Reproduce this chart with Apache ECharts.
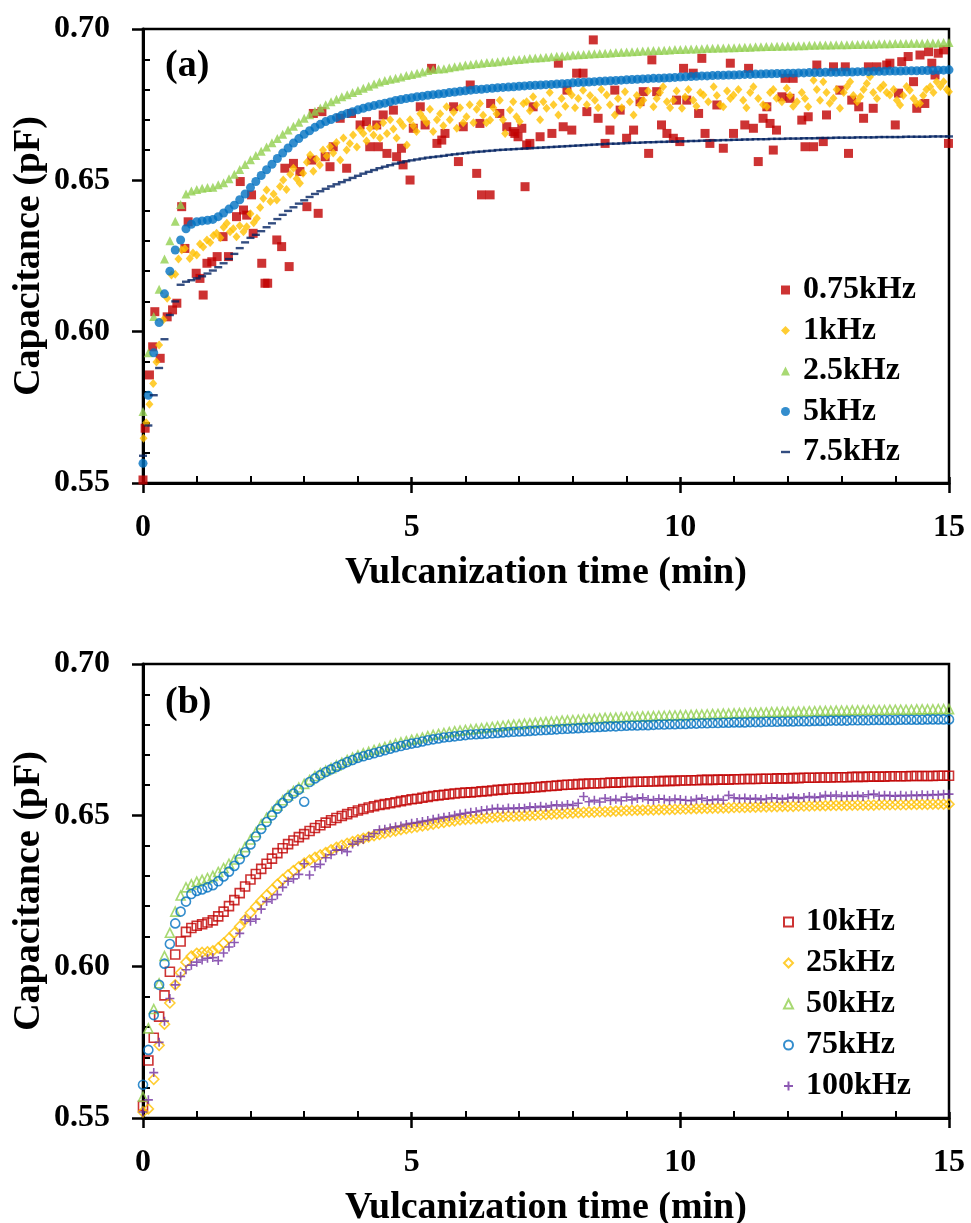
<!DOCTYPE html>
<html>
<head>
<meta charset="utf-8">
<script src="https://cdn.jsdelivr.net/npm/echarts@6/dist/echarts.min.js"></script>
<style>
html,body{margin:0;padding:0;background:#fff;}
#chart{width:971px;height:1223px;}
</style>
</head>
<body>
<div id="chart"></div>
<script>
// ---------- shared time grid (min) ----------
const timeGrid = [
0,0.1,0.2,0.3,0.4,0.5,0.6,0.7,0.8,0.9,
1,1.1,1.2,1.3,1.4,1.5,1.6,1.7,1.8,1.9,
2,2.1,2.2,2.3,2.4,2.5,2.6,2.7,2.8,2.9,
3,3.1,3.2,3.3,3.4,3.5,3.6,3.7,3.8,3.9,
4,4.1,4.2,4.3,4.4,4.5,4.6,4.7,4.8,4.9,
5,5.1,5.2,5.3,5.4,5.5,5.6,5.7,5.8,5.9,
6,6.1,6.2,6.3,6.4,6.5,6.6,6.7,6.8,6.9,
7,7.1,7.2,7.3,7.4,7.5,7.6,7.7,7.8,7.9,
8,8.1,8.2,8.3,8.4,8.5,8.6,8.7,8.8,8.9,
9,9.1,9.2,9.3,9.4,9.5,9.6,9.7,9.8,9.9,
10,10.1,10.2,10.3,10.4,10.5,10.6,10.7,10.8,10.9,
11,11.1,11.2,11.3,11.4,11.5,11.6,11.7,11.8,11.9,
12,12.1,12.2,12.3,12.4,12.5,12.6,12.7,12.8,12.9,
13,13.1,13.2,13.3,13.4,13.5,13.6,13.7,13.8,13.9,
14,14.1,14.2,14.3,14.4,14.5,14.6,14.7,14.8,14.9,
15];

// ---------- panel (a) ----------
const a075kHz = [[0,0.5510],[0.04,0.5681],[0.12,0.5857],[0.18,0.5950],[0.22,0.6066],[0.32,0.5912],[0.45,0.6049],[0.55,0.6072],[0.63,0.6094],[0.72,0.6413],[0.78,0.6275],[0.84,0.6363],[0.99,0.6193],[1.06,0.6176],[1.12,0.6121],[1.19,0.6226],[1.28,0.6231],[1.38,0.6248],[1.49,0.6314],[1.59,0.6248],[1.74,0.6380],[1.81,0.6496],[1.87,0.6402],[1.93,0.6385],[2.02,0.6452],[2.05,0.6325],[2.21,0.6226],[2.27,0.6160],[2.32,0.6160],[2.49,0.6303],[2.58,0.6281],[2.64,0.6540],[2.72,0.6215],[2.80,0.6556],[2.92,0.6529],[3.05,0.6413],[3.14,0.6567],[3.17,0.6721],[3.26,0.6391],[3.33,0.6727],[3.39,0.6578],[3.48,0.6545],[3.54,0.6611],[3.67,0.6705],[3.79,0.6540],[3.88,0.6721],[4.04,0.6683],[4.16,0.6694],[4.22,0.6611],[4.35,0.6683],[4.38,0.6611],[4.47,0.6716],[4.54,0.6589],[4.66,0.6732],[4.72,0.6578],[4.81,0.6606],[4.84,0.6551],[4.97,0.6501],[5.03,0.6672],[5.16,0.6743],[5.25,0.6683],[5.37,0.6870],[5.47,0.6622],[5.56,0.6633],[5.62,0.6655],[5.78,0.6743],[5.87,0.6562],[5.96,0.6677],[6.09,0.6815],[6.21,0.6523],[6.27,0.6688],[6.30,0.6452],[6.46,0.6452],[6.47,0.6754],[6.64,0.6721],[6.77,0.6677],[6.89,0.6661],[6.92,0.6655],[6.98,0.6644],[7.05,0.6672],[7.11,0.6479],[7.14,0.6617],[7.20,0.6622],[7.26,0.6743],[7.39,0.6644],[7.61,0.6655],[7.73,0.6887],[7.82,0.6677],[7.89,0.6798],[7.98,0.6666],[8.07,0.6854],[8.19,0.6854],[8.26,0.6727],[8.38,0.6964],[8.47,0.6705],[8.60,0.6622],[8.69,0.6666],[8.78,0.6798],[8.88,0.6732],[9.00,0.6639],[9.13,0.6666],[9.25,0.6760],[9.31,0.6793],[9.41,0.6589],[9.47,0.6898],[9.56,0.6793],[9.65,0.6683],[9.75,0.6655],[9.87,0.6639],[9.93,0.6765],[9.99,0.6628],[10.06,0.6870],[10.12,0.6765],[10.24,0.6854],[10.34,0.6721],[10.40,0.6903],[10.46,0.6655],[10.55,0.6622],[10.68,0.6749],[10.80,0.6606],[10.93,0.6887],[10.99,0.6655],[11.20,0.6683],[11.27,0.6870],[11.36,0.6672],[11.45,0.6562],[11.54,0.6705],[11.61,0.6743],[11.67,0.6688],[11.73,0.6600],[11.79,0.6666],[11.89,0.6776],[11.95,0.6837],[12.04,0.6771],[12.10,0.6837],[12.26,0.6699],[12.32,0.6611],[12.38,0.6710],[12.48,0.6611],[12.54,0.6881],[12.66,0.6628],[12.72,0.6716],[12.85,0.6875],[12.97,0.6798],[13.07,0.6875],[13.13,0.6589],[13.19,0.6765],[13.32,0.6743],[13.41,0.6705],[13.50,0.6875],[13.59,0.6738],[13.66,0.6875],[13.84,0.6881],[13.90,0.6887],[14.00,0.6683],[14.06,0.6788],[14.12,0.6892],[14.24,0.6909],[14.34,0.6826],[14.40,0.6738],[14.46,0.6914],[14.55,0.6754],[14.62,0.6925],[14.68,0.6887],[14.74,0.6848],[14.80,0.6920],[14.90,0.6931],[14.99,0.6622]];

const a1kHz = [[0.01,0.5648],[0.06,0.5699],[0.12,0.5760],[0.19,0.5829],[0.25,0.5900],[0.3,0.5956],[0.38,0.6039],[0.45,0.6110],[0.53,0.6187],[0.6,0.6190],[0.66,0.6240],[0.72,0.6270],[0.78,0.6275],[0.87,0.6242],[0.93,0.6260],[1.0,0.6253],[1.06,0.6290],[1.12,0.6280],[1.19,0.6303],[1.25,0.6295],[1.31,0.6318],[1.37,0.6325],[1.44,0.6310],[1.5,0.6345],[1.56,0.6358],[1.62,0.6330],[1.68,0.6340],[1.74,0.6314],[1.8,0.6350],[1.87,0.6330],[1.93,0.6347],[2.0,0.6390],[2.06,0.6360],[2.12,0.6375],[2.18,0.6410],[2.24,0.6440],[2.30,0.6468],[2.37,0.6430],[2.43,0.6455],[2.49,0.6435],[2.55,0.6480],[2.61,0.6501],[2.67,0.6470],[2.74,0.6520],[2.80,0.6540],[2.86,0.6505],[2.92,0.6490],[2.98,0.6523],[3.05,0.6560],[3.11,0.6584],[3.17,0.6530],[3.23,0.6570],[3.29,0.6551],[3.35,0.6600],[3.42,0.6580],[3.48,0.6611],[3.54,0.6590],[3.60,0.6625],[3.67,0.6567],[3.73,0.6640],[3.79,0.6600],[3.85,0.6622],[3.91,0.6650],[3.98,0.6610],[4.04,0.6668],[4.10,0.6655],[4.16,0.6630],[4.22,0.6672],[4.29,0.6650],[4.35,0.6677],[4.41,0.6640],[4.47,0.6690],[4.54,0.6655],[4.60,0.6700],[4.66,0.6670],[4.72,0.6640],[4.78,0.6694],[4.84,0.6680],[4.91,0.6617],[4.97,0.6700],[5.03,0.6680],[5.09,0.6661],[5.16,0.6720],[5.22,0.6705],[5.28,0.6690],[5.34,0.6735],[5.40,0.6661],[5.47,0.6700],[5.53,0.6720],[5.59,0.6680],[5.65,0.6743],[5.71,0.6700],[5.78,0.6725],[5.84,0.6672],[5.90,0.6740],[5.96,0.6690],[6.02,0.6710],[6.08,0.6750],[6.15,0.6690],[6.21,0.6735],[6.27,0.6754],[6.33,0.6715],[6.39,0.6690],[6.46,0.6699],[6.52,0.6740],[6.58,0.6720],[6.64,0.6765],[6.70,0.6700],[6.74,0.6655],[6.83,0.6732],[6.89,0.6760],[6.95,0.6710],[7.01,0.6694],[7.08,0.6754],[7.14,0.6760],[7.20,0.6730],[7.26,0.6776],[7.32,0.6750],[7.39,0.6700],[7.45,0.6760],[7.51,0.6738],[7.57,0.6790],[7.64,0.6750],[7.73,0.6716],[7.79,0.6770],[7.86,0.6745],[7.92,0.6795],[7.98,0.6782],[8.04,0.6740],[8.10,0.6770],[8.19,0.6798],[8.26,0.6750],[8.32,0.6780],[8.41,0.6765],[8.47,0.6740],[8.53,0.6800],[8.63,0.6782],[8.69,0.6750],[8.78,0.6716],[8.84,0.6770],[8.91,0.6740],[8.97,0.6793],[9.06,0.6760],[9.13,0.6716],[9.19,0.6780],[9.25,0.6750],[9.31,0.6765],[9.40,0.6795],[9.50,0.6743],[9.56,0.6770],[9.62,0.6790],[9.68,0.6809],[9.75,0.6760],[9.81,0.6740],[9.87,0.6765],[9.93,0.6795],[10.03,0.6738],[10.09,0.6775],[10.15,0.6800],[10.24,0.6765],[10.30,0.6745],[10.37,0.6790],[10.43,0.6782],[10.52,0.6760],[10.62,0.6809],[10.68,0.6780],[10.74,0.6750],[10.80,0.6743],[10.87,0.6795],[10.93,0.6770],[10.99,0.6782],[11.08,0.6800],[11.17,0.6765],[11.23,0.6740],[11.30,0.6790],[11.36,0.6809],[11.45,0.6770],[11.54,0.6750],[11.61,0.6743],[11.67,0.6790],[11.73,0.6800],[11.79,0.6771],[11.89,0.6760],[11.98,0.6804],[12.04,0.6780],[12.10,0.6745],[12.17,0.6760],[12.26,0.6790],[12.32,0.6770],[12.38,0.6743],[12.48,0.6831],[12.54,0.6800],[12.60,0.6765],[12.66,0.6826],[12.72,0.6790],[12.78,0.6755],[12.85,0.6771],[12.91,0.6800],[12.97,0.6738],[13.04,0.6790],[13.10,0.6810],[13.16,0.6826],[13.22,0.6780],[13.29,0.6760],[13.35,0.6776],[13.41,0.6800],[13.47,0.6820],[13.53,0.6842],[13.59,0.6790],[13.66,0.6770],[13.72,0.6804],[13.78,0.6815],[13.84,0.6790],[13.90,0.6782],[13.97,0.6800],[14.03,0.6765],[14.09,0.6749],[14.15,0.6780],[14.21,0.6810],[14.27,0.6798],[14.34,0.6770],[14.40,0.6754],[14.46,0.6754],[14.52,0.6780],[14.58,0.6800],[14.65,0.6809],[14.71,0.6790],[14.77,0.6826],[14.84,0.6810],[14.90,0.6826],[14.96,0.6800],[15.0,0.6793]];

const a25kHz = [
0.5736,0.5930,0.6050,0.6140,0.6240,0.6300,0.6365,0.6420,0.6455,0.6465,
0.6470,0.6474,0.6476,0.6477,0.6485,0.6492,0.6505,0.6520,0.6536,0.6552,
0.6568,0.6582,0.6596,0.6610,0.6624,0.6638,0.6652,0.6666,0.6679,0.6692,
0.6705,0.6717,0.6728,0.6739,0.6750,0.6760,0.6768,0.6776,0.6783,0.6790,
0.6797,0.6804,0.6811,0.6818,0.6825,0.6830,0.6834,0.6837,0.6841,0.6846,
0.6850,0.6854,0.6858,0.6863,0.6866,0.6868,0.6869,0.6872,0.6875,0.6878,
0.6881,0.6883,0.6885,0.6887,0.6889,0.6890,0.6892,0.6894,0.6896,0.6898,
0.6899,0.6901,0.6903,0.6904,0.6905,0.6907,0.6908,0.6910,0.6911,0.6912,
0.6914,0.6915,0.6916,0.6917,0.6918,0.6919,0.6920,0.6921,0.6922,0.6923,
0.6924,0.6925,0.6926,0.6927,0.6928,0.6929,0.6929,0.6930,0.6931,0.6932,
0.6932,0.6933,0.6934,0.6934,0.6935,0.6936,0.6936,0.6937,0.6937,0.6938,
0.6938,0.6939,0.6940,0.6940,0.6941,0.6941,0.6942,0.6942,0.6943,0.6943,
0.6944,0.6944,0.6945,0.6945,0.6946,0.6946,0.6947,0.6947,0.6947,0.6948,
0.6948,0.6948,0.6949,0.6949,0.6950,0.6950,0.6950,0.6951,0.6951,0.6951,
0.6952,0.6952,0.6952,0.6953,0.6953,0.6953,0.6954,0.6954,0.6954,0.6955,
0.6955];

const a5kHz = [
0.5565,0.5790,0.5930,0.6030,0.6125,0.6200,0.6270,0.6303,0.6340,0.6355,
0.6363,0.6366,0.6368,0.6371,0.6380,0.6392,0.6405,0.6418,0.6436,0.6455,
0.6476,0.6496,0.6516,0.6535,0.6553,0.6572,0.6590,0.6607,0.6623,0.6638,
0.6652,0.6664,0.6675,0.6685,0.6694,0.6701,0.6708,0.6715,0.6721,0.6727,
0.6733,0.6738,0.6743,0.6747,0.6751,0.6755,0.6759,0.6764,0.6767,0.6770,
0.6773,0.6776,0.6778,0.6781,0.6783,0.6785,0.6787,0.6790,0.6792,0.6794,
0.6796,0.6798,0.6800,0.6801,0.6803,0.6804,0.6806,0.6807,0.6808,0.6809,
0.6811,0.6812,0.6813,0.6814,0.6815,0.6816,0.6817,0.6818,0.6819,0.6820,
0.6822,0.6823,0.6824,0.6825,0.6826,0.6827,0.6828,0.6829,0.6830,0.6831,
0.6832,0.6833,0.6834,0.6835,0.6836,0.6837,0.6837,0.6838,0.6839,0.6840,
0.6841,0.6842,0.6843,0.6844,0.6845,0.6845,0.6846,0.6847,0.6847,0.6848,
0.6848,0.6849,0.6850,0.6850,0.6851,0.6851,0.6852,0.6852,0.6853,0.6853,
0.6854,0.6854,0.6855,0.6855,0.6856,0.6856,0.6856,0.6857,0.6857,0.6857,
0.6858,0.6858,0.6858,0.6859,0.6859,0.6859,0.6860,0.6860,0.6860,0.6861,
0.6861,0.6861,0.6862,0.6862,0.6862,0.6863,0.6863,0.6863,0.6864,0.6864,
0.6865];

const a75kHz = [
0.5590,0.5690,0.5790,0.5880,0.5975,0.6055,0.6100,0.6155,0.6165,0.6170,
0.6176,0.6183,0.6192,0.6202,0.6213,0.6226,0.6240,0.6257,0.6276,0.6295,
0.6310,0.6320,0.6332,0.6345,0.6358,0.6372,0.6386,0.6399,0.6411,0.6423,
0.6434,0.6445,0.6455,0.6464,0.6472,0.6480,0.6487,0.6494,0.6501,0.6508,
0.6515,0.6522,0.6528,0.6534,0.6540,0.6545,0.6550,0.6555,0.6559,0.6563,
0.6566,0.6569,0.6572,0.6575,0.6577,0.6579,0.6581,0.6584,0.6586,0.6588,
0.6590,0.6592,0.6594,0.6595,0.6597,0.6598,0.6600,0.6601,0.6602,0.6603,
0.6604,0.6605,0.6606,0.6607,0.6608,0.6609,0.6610,0.6611,0.6612,0.6613,
0.6614,0.6615,0.6616,0.6617,0.6618,0.6619,0.6620,0.6621,0.6621,0.6622,
0.6623,0.6624,0.6624,0.6625,0.6626,0.6626,0.6627,0.6627,0.6628,0.6628,
0.6629,0.6629,0.6630,0.6630,0.6631,0.6631,0.6632,0.6632,0.6633,0.6633,
0.6634,0.6634,0.6635,0.6635,0.6636,0.6636,0.6636,0.6637,0.6637,0.6637,
0.6638,0.6638,0.6638,0.6639,0.6639,0.6639,0.6640,0.6640,0.6640,0.6641,
0.6641,0.6641,0.6641,0.6642,0.6642,0.6642,0.6642,0.6643,0.6643,0.6643,
0.6643,0.6643,0.6644,0.6644,0.6644,0.6644,0.6644,0.6645,0.6645,0.6645,
0.6645];

// ---------- panel (b) ----------
const b10kHz = [
0.5540,0.5690,0.5765,0.5835,0.5905,0.5983,0.6040,0.6083,0.6115,0.6128,
0.6135,0.6140,0.6146,0.6153,0.6166,0.6182,0.6200,0.6220,0.6243,0.6265,
0.6288,0.6306,0.6323,0.6340,0.6357,0.6375,0.6391,0.6405,0.6417,0.6428,
0.6438,0.6448,0.6458,0.6467,0.6476,0.6484,0.6491,0.6498,0.6504,0.6510,
0.6516,0.6521,0.6526,0.6530,0.6534,0.6537,0.6540,0.6543,0.6547,0.6550,
0.6553,0.6555,0.6558,0.6561,0.6564,0.6566,0.6568,0.6570,0.6572,0.6574,
0.6575,0.6576,0.6577,0.6579,0.6580,0.6582,0.6584,0.6585,0.6587,0.6588,
0.6589,0.6590,0.6591,0.6593,0.6594,0.6596,0.6597,0.6598,0.6600,0.6601,
0.6602,0.6603,0.6604,0.6605,0.6605,0.6606,0.6607,0.6608,0.6608,0.6609,
0.6610,0.6610,0.6611,0.6611,0.6612,0.6612,0.6613,0.6613,0.6614,0.6614,
0.6615,0.6615,0.6616,0.6616,0.6617,0.6617,0.6617,0.6618,0.6618,0.6618,
0.6619,0.6619,0.6620,0.6620,0.6620,0.6621,0.6621,0.6621,0.6622,0.6622,
0.6622,0.6623,0.6623,0.6624,0.6624,0.6624,0.6625,0.6625,0.6625,0.6626,
0.6626,0.6626,0.6627,0.6627,0.6627,0.6628,0.6628,0.6628,0.6628,0.6629,
0.6629,0.6629,0.6629,0.6630,0.6630,0.6630,0.6630,0.6630,0.6631,0.6631,
0.6631];

const b25kHz = [
0.5520,0.5530,0.5628,0.5740,0.5810,0.5880,0.5940,0.5980,0.6015,0.6035,
0.6044,0.6047,0.6049,0.6052,0.6062,0.6078,0.6094,0.6112,0.6133,0.6155,
0.6178,0.6198,0.6218,0.6236,0.6254,0.6272,0.6288,0.6303,0.6317,0.6330,
0.6342,0.6352,0.6361,0.6369,0.6377,0.6386,0.6394,0.6401,0.6407,0.6413,
0.6419,0.6424,0.6429,0.6433,0.6437,0.6441,0.6445,0.6449,0.6453,0.6456,
0.6459,0.6462,0.6465,0.6468,0.6471,0.6474,0.6477,0.6480,0.6482,0.6485,
0.6487,0.6488,0.6489,0.6490,0.6492,0.6493,0.6495,0.6496,0.6497,0.6497,
0.6498,0.6499,0.6500,0.6501,0.6502,0.6503,0.6504,0.6505,0.6506,0.6507,
0.6508,0.6509,0.6510,0.6511,0.6511,0.6512,0.6512,0.6513,0.6514,0.6515,
0.6516,0.6516,0.6517,0.6517,0.6518,0.6518,0.6519,0.6519,0.6520,0.6520,
0.6521,0.6521,0.6522,0.6522,0.6523,0.6523,0.6524,0.6524,0.6525,0.6525,
0.6526,0.6526,0.6526,0.6527,0.6527,0.6528,0.6528,0.6529,0.6529,0.6530,
0.6530,0.6530,0.6531,0.6531,0.6531,0.6532,0.6532,0.6532,0.6533,0.6533,
0.6533,0.6533,0.6534,0.6534,0.6534,0.6534,0.6534,0.6535,0.6535,0.6535,
0.6535,0.6535,0.6535,0.6536,0.6536,0.6536,0.6536,0.6537,0.6537,0.6537,
0.6537];

const b50kHz = [
0.5570,0.5796,0.5860,0.5945,0.6035,0.6112,0.6182,0.6235,0.6262,0.6272,
0.6281,0.6287,0.6293,0.6300,0.6313,0.6326,0.6340,0.6354,0.6374,0.6395,
0.6420,0.6444,0.6470,0.6492,0.6512,0.6532,0.6550,0.6566,0.6580,0.6592,
0.6604,0.6617,0.6630,0.6640,0.6648,0.6656,0.6665,0.6674,0.6683,0.6691,
0.6698,0.6705,0.6710,0.6716,0.6721,0.6726,0.6731,0.6737,0.6741,0.6745,
0.6750,0.6753,0.6757,0.6762,0.6766,0.6769,0.6772,0.6775,0.6778,0.6780,
0.6782,0.6784,0.6786,0.6788,0.6790,0.6792,0.6794,0.6796,0.6798,0.6800,
0.6801,0.6803,0.6804,0.6806,0.6807,0.6809,0.6810,0.6811,0.6813,0.6814,
0.6815,0.6816,0.6817,0.6818,0.6819,0.6821,0.6822,0.6822,0.6823,0.6824,
0.6825,0.6826,0.6826,0.6827,0.6827,0.6828,0.6829,0.6829,0.6830,0.6830,
0.6831,0.6831,0.6832,0.6833,0.6833,0.6834,0.6835,0.6835,0.6836,0.6836,
0.6837,0.6838,0.6838,0.6839,0.6839,0.6840,0.6840,0.6841,0.6841,0.6842,
0.6842,0.6842,0.6843,0.6843,0.6844,0.6844,0.6845,0.6845,0.6845,0.6846,
0.6846,0.6846,0.6847,0.6847,0.6847,0.6848,0.6848,0.6848,0.6848,0.6849,
0.6849,0.6849,0.6849,0.6849,0.6850,0.6850,0.6850,0.6850,0.6851,0.6851,
0.6851];

const b75kHz = [
0.5610,0.5725,0.5840,0.5940,0.6010,0.6075,0.6143,0.6182,0.6215,0.6240,
0.6250,0.6255,0.6262,0.6269,0.6282,0.6298,0.6314,0.6333,0.6355,0.6378,
0.6404,0.6430,0.6455,0.6478,0.6500,0.6522,0.6541,0.6558,0.6572,0.6585,
0.6545,0.6610,0.6622,0.6633,0.6643,0.6652,0.6660,0.6668,0.6676,0.6683,
0.6690,0.6695,0.6700,0.6705,0.6710,0.6715,0.6720,0.6725,0.6729,0.6733,
0.6737,0.6740,0.6744,0.6748,0.6751,0.6754,0.6757,0.6759,0.6761,0.6763,
0.6765,0.6767,0.6768,0.6769,0.6770,0.6771,0.6772,0.6774,0.6775,0.6776,
0.6777,0.6778,0.6779,0.6780,0.6781,0.6782,0.6783,0.6784,0.6785,0.6786,
0.6787,0.6788,0.6789,0.6790,0.6791,0.6792,0.6793,0.6794,0.6794,0.6795,
0.6796,0.6797,0.6797,0.6798,0.6798,0.6799,0.6800,0.6800,0.6801,0.6801,
0.6802,0.6802,0.6803,0.6803,0.6804,0.6804,0.6805,0.6805,0.6806,0.6806,
0.6807,0.6807,0.6807,0.6808,0.6808,0.6808,0.6809,0.6809,0.6809,0.6810,
0.6810,0.6810,0.6811,0.6811,0.6811,0.6812,0.6812,0.6812,0.6813,0.6813,
0.6813,0.6813,0.6814,0.6814,0.6814,0.6814,0.6815,0.6815,0.6815,0.6815,
0.6815,0.6816,0.6816,0.6816,0.6816,0.6816,0.6817,0.6817,0.6817,0.6817,
0.6817];

const b100kHz = [
0.5520,0.5560,0.5650,0.5750,0.5820,0.5895,0.5940,0.5968,0.5990,0.6005,
0.6015,0.6022,0.6028,0.6030,0.6020,0.6045,0.6065,0.6080,0.6110,0.6155,
0.6150,0.6157,0.6190,0.6215,0.6222,0.6238,0.6262,0.6282,0.6290,0.6305,
0.6340,0.6303,0.6330,0.6338,0.6360,0.6370,0.6385,0.6386,0.6380,0.6405,
0.6413,0.6420,0.6430,0.6440,0.6452,0.6454,0.6458,0.6462,0.6465,0.6470,
0.6474,0.6476,0.6480,0.6483,0.6487,0.6490,0.6494,0.6496,0.6500,0.6504,
0.6507,0.6510,0.6512,0.6516,0.6518,0.6521,0.6523,0.6520,0.6524,0.6522,
0.6525,0.6523,0.6528,0.6526,0.6530,0.6527,0.6532,0.6535,0.6531,0.6536,
0.6533,0.6540,0.6562,0.6545,0.6550,0.6544,0.6556,0.6549,0.6553,0.6548,
0.6560,0.6551,0.6556,0.6558,0.6552,0.6550,0.6555,0.6553,0.6549,0.6554,
0.6552,0.6550,0.6548,0.6553,0.6556,0.6549,0.6551,0.6554,0.6550,0.6566,
0.6558,0.6555,0.6557,0.6553,0.6556,0.6552,0.6554,0.6558,0.6556,0.6553,
0.6557,0.6560,0.6556,0.6559,0.6562,0.6558,0.6561,0.6566,0.6563,0.6567,
0.6562,0.6565,0.6563,0.6566,0.6562,0.6568,0.6570,0.6564,0.6566,0.6565,
0.6563,0.6566,0.6564,0.6567,0.6565,0.6568,0.6566,0.6569,0.6567,0.6570,
0.6570];

const xTicks = [0, 5, 10, 15];
const yTicks = [0.55, 0.60, 0.65, 0.70];
const legendA = ['0.75kHz','1kHz','2.5kHz','5kHz','7.5kHz'];
const legendB = ['10kHz','25kHz','50kHz','75kHz','100kHz'];

// ---------- build ----------
const FONT = 'Liberation Serif';
const zip = (ts, vs) => ts.map((t, i) => [t, vs[i]]);
const black = '#000';

function xAxes(gi) {
  return [{
    type: 'value', gridIndex: gi, position: 'bottom',
    min: xTicks[0], max: xTicks[xTicks.length - 1], interval: xTicks[1] - xTicks[0],
    axisLine: {show: true, onZero: false, lineStyle: {color: black, width: 3}},
    axisTick: {show: true, inside: false, length: 10, lineStyle: {color: black, width: 2.5}},
    minorTick: {show: false},
    splitLine: {show: false},
    axisLabel: {margin: 29, fontFamily: FONT, fontWeight: 'bold', fontSize: 32, color: black},
    name: 'Vulcanization time (min)', nameLocation: 'middle', nameGap: 71, nameMoveOverlap: false,
    nameTextStyle: {fontFamily: FONT, fontWeight: 'bold', fontSize: 38, color: black}
  }, {
    type: 'value', gridIndex: gi, position: 'bottom',
    min: xTicks[0], max: xTicks[xTicks.length - 1], interval: xTicks[1] - xTicks[0],
    axisLine: {show: false},
    axisTick: {show: true, inside: true, length: 6, lineStyle: {color: black, width: 2.5}},
    minorTick: {show: true, splitNumber: 5, length: 7, lineStyle: {color: black, width: 2}},
    splitLine: {show: false}, axisLabel: {show: false}
  }];
}
function yAxes(gi) {
  return [{
    type: 'value', gridIndex: gi, position: 'left',
    min: yTicks[0], max: yTicks[yTicks.length - 1], interval: 0.05,
    axisLine: {show: true, onZero: false, lineStyle: {color: black, width: 3}},
    axisTick: {show: true, inside: false, length: 11, lineStyle: {color: black, width: 2.5}},
    minorTick: {show: false},
    splitLine: {show: false},
    axisLabel: {margin: 33, fontFamily: FONT, fontWeight: 'bold', fontSize: 32, color: black,
      formatter: v => Number(v).toFixed(2)},
    name: 'Capacitance (pF)', nameLocation: 'middle', nameGap: 95, nameRotate: 90, nameMoveOverlap: false,
    nameTextStyle: {fontFamily: FONT, fontWeight: 'bold', fontSize: 38, color: black}
  }, {
    type: 'value', gridIndex: gi, position: 'left',
    min: yTicks[0], max: yTicks[yTicks.length - 1], interval: 0.05,
    axisLine: {show: false},
    axisTick: {show: false, inside: true},
    minorTick: {show: true, splitNumber: 5, length: 7, lineStyle: {color: black, width: 2}},
    splitLine: {show: false}, axisLabel: {show: false}
  }];
}

const gridBase = {left: 143, width: 806, height: 454, show: true, borderColor: black, borderWidth: 2.5,
  backgroundColor: 'transparent', containLabel: false, outerBoundsMode: 'none'};

const sA = {type: 'scatter', xAxisIndex: 0, yAxisIndex: 0, silent: true, animation: false};
const sB = {type: 'scatter', xAxisIndex: 2, yAxisIndex: 2, silent: true, animation: false};
const hollow = c => ({color: 'rgba(0,0,0,0)', borderColor: c, borderWidth: 1.6});
const plusPath = 'path://M5,0V10M0,5H10';

const legendText = {fontFamily: FONT, fontWeight: 'bold', fontSize: 32, color: black, lineHeight: 32, padding: [0, 0, 0, 8]};

const option = {
  backgroundColor: '#fff',
  animation: false,
  grid: [Object.assign({top: 29}, gridBase), Object.assign({top: 664}, gridBase)],
  xAxis: [...xAxes(0), ...xAxes(1)],
  yAxis: [...yAxes(0), ...yAxes(1)],
  legend: [{
    orient: 'vertical', left: 781, top: 274, padding: 0, itemGap: 8.5, itemWidth: 9, itemHeight: 9,
    selectedMode: false, textStyle: legendText,
    data: [legendA[0], legendA[1], legendA[2], legendA[3], {name: legendA[4], icon: 'path://M0,0H9V2.4H0Z'}]
  }, {
    orient: 'vertical', left: 783, top: 906, padding: 0, itemGap: 9, itemWidth: 9, itemHeight: 9,
    selectedMode: false, textStyle: legendText,
    data: legendB
  }],
  graphic: [
    {type: 'text', left: 165, top: 47, silent: true, style: {text: '(a)', font: 'bold 38px "Liberation Serif"', fill: black}},
    {type: 'text', left: 165, top: 684, silent: true, style: {text: '(b)', font: 'bold 38px "Liberation Serif"', fill: black}}
  ],
  series: [
    Object.assign({name: legendA[0], data: a075kHz, symbol: 'rect', symbolSize: 9, itemStyle: {color: '#C00000'}}, sA),
    Object.assign({name: legendA[1], data: a1kHz, symbol: 'diamond', symbolSize: [8, 9], itemStyle: {color: '#FFC000'}}, sA),
    Object.assign({name: legendA[2], data: zip(timeGrid, a25kHz), symbol: 'triangle', symbolSize: 9, itemStyle: {color: '#92D050'}}, sA),
    Object.assign({name: legendA[3], data: zip(timeGrid, a5kHz), symbol: 'circle', symbolSize: 9, itemStyle: {color: '#0070C0'}}, sA),
    Object.assign({name: legendA[4], data: zip(timeGrid, a75kHz), symbol: 'rect', symbolSize: [8, 2.4], itemStyle: {color: '#002060'}}, sA),

    Object.assign({name: legendB[0], data: zip(timeGrid, b10kHz), symbol: 'rect', symbolSize: 9, itemStyle: hollow('#C00000')}, sB),
    Object.assign({name: legendB[1], data: zip(timeGrid, b25kHz), symbol: 'diamond', symbolSize: 10, itemStyle: hollow('#FFC000')}, sB),
    Object.assign({name: legendB[2], data: zip(timeGrid, b50kHz), symbol: 'triangle', symbolSize: 9, itemStyle: hollow('#92D050')}, sB),
    Object.assign({name: legendB[3], data: zip(timeGrid, b75kHz), symbol: 'circle', symbolSize: 9, itemStyle: hollow('#0070C0')}, sB),
    Object.assign({name: legendB[4], data: zip(timeGrid, b100kHz), symbol: plusPath, symbolSize: 9, itemStyle: hollow('#7030A0')}, sB)
  ]
};

const chart = echarts.init(document.getElementById('chart'), null, {renderer: 'canvas'});
chart.setOption(option);
</script>
</body>
</html>
